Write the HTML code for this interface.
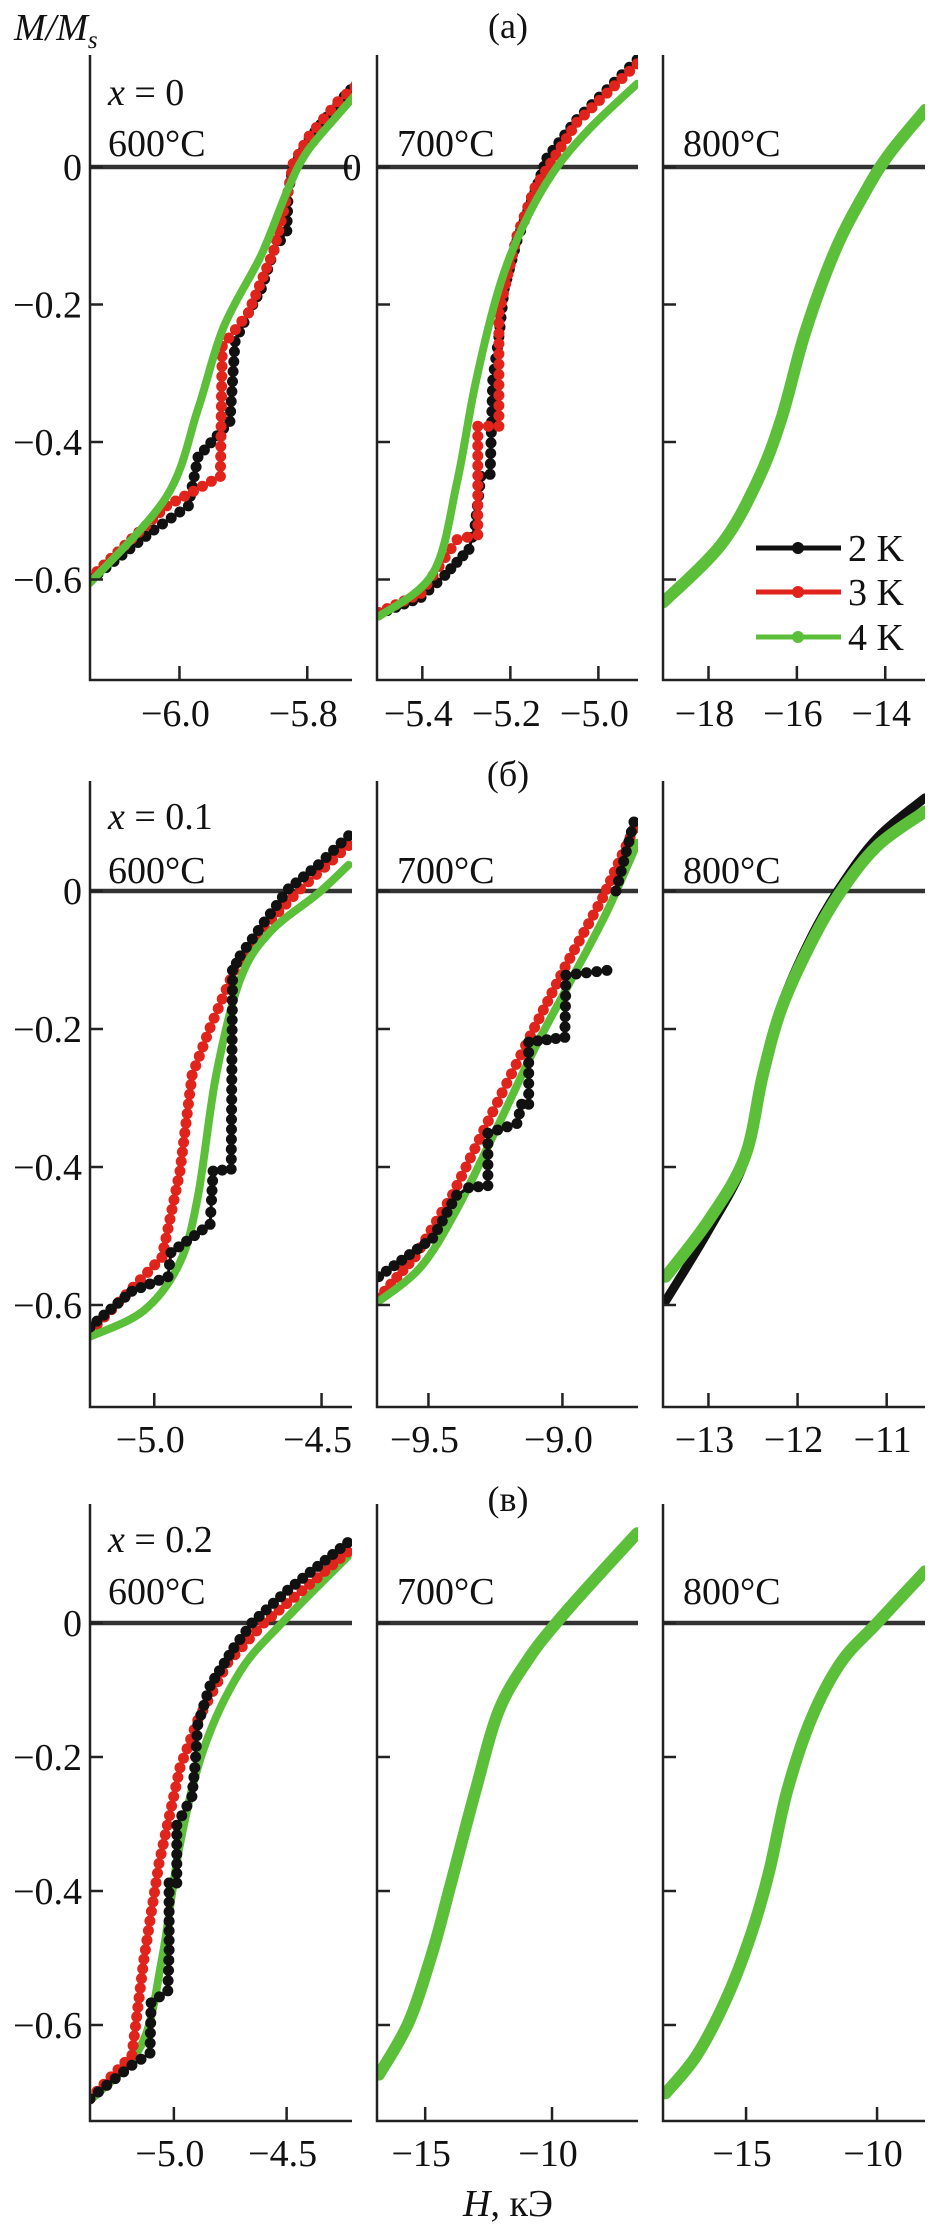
<!DOCTYPE html>
<html><head><meta charset="utf-8"><style>
html,body{margin:0;padding:0;background:#fff;}
svg{display:block;}
text{font-family:"Liberation Serif",serif;fill:#111;}
</style></head><body>
<svg id="fig" width="938" height="2228" viewBox="0 0 938 2228" xmlns="http://www.w3.org/2000/svg"></svg>
<script>
// ---- data (H in kOe, M/Ms) ----
const yTicks = [0, -0.2, -0.4, -0.6];
const yTickLabels = ["0", "\u22120.2", "\u22120.4", "\u22120.6"];
const seriesNames = ["2 K", "3 K", "4 K"];
const rowTitles = ["(a)", "(\u0431)", "(\u0432)"];
const compLabels = ["x = 0", "x = 0.1", "x = 0.2"];
const tempLabels = ["600\u00b0C", "700\u00b0C", "800\u00b0C"];

const xDomains = [
 [[-6.14,-5.73],[-5.503,-4.91],[-19.03,-13.1]],
 [[-5.192,-4.409],[-9.692,-8.718],[-13.51,-10.57]],
 [[-5.372,-4.21],[-16.9,-6.61],[-18.17,-8.17]]
];
const xTicks = [
 [[-6.0,-5.8],[-5.4,-5.2,-5.0],[-18,-16,-14]],
 [[-5.0,-4.5],[-9.5,-9.0],[-13,-12,-11]],
 [[-5.0,-4.5],[-15,-10],[-15,-10]]
];
const xTickLabels = [
 [["\u22126.0","\u22125.8"],["\u22125.4","\u22125.2","\u22125.0"],["\u221218","\u221216","\u221214"]],
 [["\u22125.0","\u22124.5"],["\u22129.5","\u22129.0"],["\u221213","\u221212","\u221211"]],
 [["\u22125.0","\u22124.5"],["\u221215","\u221210"],["\u221215","\u221210"]]
];

// panel a1
const a1H_2K=[-6.14,-6.04,-5.986,-5.971,-5.921,-5.913,-5.892,-5.872,-5.852,-5.832,-5.83,-5.822,-5.797,-5.752,-5.712];
const a1M_2K=[-0.601,-0.528,-0.493,-0.422,-0.37,-0.254,-0.212,-0.177,-0.121,-0.093,-0.036,0,0.041,0.093,0.132];
const a1H_3K=[-6.14,-6.02,-5.936,-5.933,-5.892,-5.852,-5.83,-5.822,-5.797,-5.752,-5.712];
const a1M_3K=[-0.598,-0.493,-0.45,-0.261,-0.212,-0.121,-0.036,0.005,0.045,0.095,0.128];
const a1H_4K=[-6.14,-6.02,-5.971,-5.931,-5.872,-5.832,-5.802,-5.752,-5.712];
const a1M_4K=[-0.605,-0.479,-0.352,-0.233,-0.128,-0.036,0.02,0.076,0.118];
// panel a2
const a2H_2K=[-5.499,-5.403,-5.349,-5.294,-5.28,-5.267,-5.246,-5.24,-5.226,-5.214,-5.185,-5.144,-5.117,-5.049,-4.912];
const a2M_2K=[-0.65,-0.626,-0.594,-0.556,-0.521,-0.45,-0.447,-0.31,-0.247,-0.177,-0.107,-0.036,0.013,0.069,0.156];
const a2H_3K=[-5.499,-5.403,-5.321,-5.274,-5.274,-5.226,-5.226,-5.185,-5.144,-5.049,-4.912];
const a2M_3K=[-0.648,-0.62,-0.542,-0.535,-0.377,-0.377,-0.212,-0.1,-0.03,0.065,0.15];
const a2H_4K=[-5.499,-5.376,-5.321,-5.28,-5.226,-5.171,-5.103,-5.021,-4.912];
const a2M_4K=[-0.654,-0.591,-0.458,-0.317,-0.177,-0.086,-0.008,0.055,0.121];
// panel a3
const a3H=[-19.02,-17.71,-16.9,-16.35,-15.81,-15.13,-14.45,-13.9,-13.09];
const a3M=[-0.633,-0.549,-0.458,-0.366,-0.24,-0.121,-0.036,0.02,0.083];
// panel b1
const b1H_2K=[-5.192,-5.067,-4.959,-4.95,-4.833,-4.829,-4.824,-4.77,-4.766,-4.743,-4.671,-4.599,-4.509,-4.419];
const b1M_2K=[-0.632,-0.58,-0.559,-0.524,-0.483,-0.448,-0.406,-0.403,-0.115,-0.094,-0.045,0.003,0.038,0.08];
const b1H_3K=[-5.192,-4.977,-4.923,-4.887,-4.833,-4.761,-4.671,-4.563,-4.419];
const b1M_3K=[-0.639,-0.531,-0.406,-0.267,-0.198,-0.115,-0.052,0.003,0.066];
const b1H_4K=[-5.192,-5.031,-4.923,-4.869,-4.815,-4.743,-4.653,-4.509,-4.419];
const b1M_4K=[-0.646,-0.608,-0.538,-0.441,-0.267,-0.128,-0.059,-0.003,0.038];
// panel b2
const b2H_2K=[-9.686,-9.484,-9.395,-9.35,-9.278,-9.278,-9.17,-9.152,-9.126,-9.126,-8.991,-8.987,-8.834,null,-8.8,-8.733];
const b2M_2K=[-0.559,-0.503,-0.441,-0.43,-0.427,-0.351,-0.337,-0.309,-0.309,-0.219,-0.212,-0.122,-0.115,null,0.0,0.1];
const b2H_3K=[-9.686,-9.55,-9.41,-9.26,-9.12,-8.99,-8.85,-8.733];
const b2M_3K=[-0.59,-0.53,-0.44,-0.32,-0.21,-0.11,-0.01,0.09];
const b2H_4K=[-9.686,-9.529,-9.395,-9.238,-9.103,-8.969,-8.834,-8.72];
const b2M_4K=[-0.595,-0.545,-0.462,-0.338,-0.228,-0.13,-0.03,0.07];
// panel b3
const b3H_2K=[-13.48,-12.99,-12.59,-12.39,-12.18,-11.84,-11.51,-11.1,-10.57];
const b3M_2K=[-0.594,-0.49,-0.39,-0.267,-0.165,-0.065,0.008,0.078,0.135];
const b3H_4K=[-13.48,-12.99,-12.59,-12.39,-12.18,-11.84,-11.51,-11.1,-10.57];
const b3M_4K=[-0.559,-0.476,-0.385,-0.267,-0.17,-0.073,0,0.066,0.115];
// panel c1
const c1H_2K=[-5.372,-5.186,-5.106,-5.101,-5.027,-5.021,-5.021,-4.987,-4.987,-4.92,-4.907,-4.894,-4.84,-4.734,-4.654,-4.495,-4.229];
const c1M_2K=[-0.71,-0.66,-0.642,-0.567,-0.549,-0.488,-0.388,-0.388,-0.302,-0.259,-0.216,-0.152,-0.094,-0.037,0,0.049,0.12];
const c1H_3K=[-5.372,-5.186,-5.133,-5.066,-4.973,-4.894,-4.761,-4.601,-4.229];
const c1M_3K=[-0.71,-0.645,-0.502,-0.359,-0.216,-0.145,-0.059,0,0.106];
const c1H_4K=[-5.372,-5.146,-5.053,-4.973,-4.867,-4.707,-4.521,-4.229];
const c1M_4K=[-0.713,-0.631,-0.502,-0.33,-0.187,-0.073,0,0.099];
// panel c2
const c2H=[-16.82,-15.64,-14.69,-13.98,-13.03,-12.09,-10.9,-9.83,-8.53,-6.64];
const c2M=[-0.674,-0.595,-0.488,-0.388,-0.252,-0.13,-0.052,0,0.056,0.134];
// panel c3
const c3H=[-18.07,-16.88,-15.73,-14.82,-14.13,-13.44,-12.52,-11.38,-10,-8.17];
const c3M=[-0.702,-0.645,-0.559,-0.466,-0.373,-0.252,-0.144,-0.059,0,0.077];

// ---- layout ----
const NS="http://www.w3.org/2000/svg";
const svg=document.getElementById('fig');
const colX=[[90,352],[377,638],[663,925]];
const rows=[{top:55,bot:680,y0:167,k:687.5,tickY:726,compY:105,tempY:156,titleY:38},
            {top:781,bot:1407,y0:891,k:690,tickY:1452,compY:829,tempY:883,titleY:786},
            {top:1504,bot:2121,y0:1623,k:670,tickY:2166,compY:1552,tempY:1604,titleY:1511}];
const COL={"2 K":"#111","3 K":"#e0231b","4 K":"#5cbf3a"};
function el(tag,attrs,parent){const e=document.createElementNS(NS,tag);for(const k in attrs)e.setAttribute(k,attrs[k]);(parent||svg).appendChild(e);return e;}
function txt(s,x,y,anchor,size,parent){const t=el('text',{x:x,y:y,'text-anchor':anchor||'start','font-size':size||36},parent);t.textContent=s;return t;}
function smoothPath(pts){
  let d='M'+pts[0][0].toFixed(1)+','+pts[0][1].toFixed(1);
  for(let i=0;i<pts.length-1;i++){
    const p0=pts[Math.max(0,i-1)],p1=pts[i],p2=pts[i+1],p3=pts[Math.min(pts.length-1,i+2)];
    const c1=[p1[0]+(p2[0]-p0[0])/6,p1[1]+(p2[1]-p0[1])/6];
    const c2=[p2[0]-(p3[0]-p1[0])/6,p2[1]-(p3[1]-p1[1])/6];
    d+='C'+c1[0].toFixed(1)+','+c1[1].toFixed(1)+' '+c2[0].toFixed(1)+','+c2[1].toFixed(1)+' '+p2[0].toFixed(1)+','+p2[1].toFixed(1);
  }
  return d;
}

const panelData=[
 [[[a1H_2K,a1M_2K,"2 K"],[a1H_3K,a1M_3K,"3 K"],[a1H_4K,a1M_4K,"4 K"]],
  [[a2H_2K,a2M_2K,"2 K"],[a2H_3K,a2M_3K,"3 K"],[a2H_4K,a2M_4K,"4 K"]],
  [[a3H,a3M,"2 K"],[a3H,a3M,"4 K"]]],
 [[[b1H_3K,b1M_3K,"3 K"],[b1H_4K,b1M_4K,"4 K"],[b1H_2K,b1M_2K,"2 K"]],
  [[b2H_3K,b2M_3K,"3 K"],[b2H_4K,b2M_4K,"4 K"],[b2H_2K,b2M_2K,"2 K"]],
  [[b3H_2K,b3M_2K,"2 K"],[b3H_4K,b3M_4K,"4 K"]]],
 [[[c1H_4K,c1M_4K,"4 K"],[c1H_3K,c1M_3K,"3 K"],[c1H_2K,c1M_2K,"2 K"]],
  [[c2H,c2M,"2 K"],[c2H,c2M,"4 K"]],
  [[c3H,c3M,"2 K"],[c3H,c3M,"4 K"]]]
];
const panelNames=["a","b","c"];

for(let r=0;r<3;r++){
  const R=rows[r];
  const title=txt(rowTitles[r],508,R.titleY,'middle',36);
  
  
  for(let c=0;c<3;c++){
    const [x0,x1]=colX[c];const [d0,d1]=xDomains[r][c];
    const sx=v=>x0+(v-d0)/(d1-d0)*(x1-x0);
    const sy=v=>R.y0-v*R.k;
    const g=el('g',{});
    
    
    const clipId='clip'+r+c;
    const cp=el('clipPath',{id:clipId},g);el('rect',{x:x0,y:R.top,width:x1-x0,height:R.bot-R.top},cp);
    const zl=el('line',{x1:x0,x2:x1,y1:sy(0),y2:sy(0),stroke:'#333','stroke-width':4.5},g);
    
    
    const sg=el('g',{'clip-path':'url(#'+clipId+')'},g);
    for(const [H,M,name] of panelData[r][c]){
      const isGreen=name==="4 K";
      const single=panelData[r][c].length===2;
      // segments
      const segs=[];let cur=[];
      for(let i=0;i<H.length;i++){
        if(H[i]===null){if(cur.length)segs.push(cur);cur=[];continue;}
        cur.push([sx(H[i]),sy(M[i])]);
      }
      if(cur.length)segs.push(cur);
      const w=isGreen?(single?12:8):(single?9:3);
      for(const s of segs){
        let d;
        if(isGreen||single) d=smoothPath(s);
        else d='M'+s.map(p=>p[0].toFixed(1)+','+p[1].toFixed(1)).join('L');
        const p=el('path',{d:d,fill:'none',stroke:COL[name],'stroke-width':w,'stroke-linejoin':'round','stroke-linecap':'round'},sg);
        
        
        if(!isGreen && !single){
          // dense markers along the polyline
          for(let i=0;i<s.length-1;i++){
            const dx=s[i+1][0]-s[i][0],dy=s[i+1][1]-s[i][1];
            const L=Math.hypot(dx,dy);const n=Math.max(1,Math.round(L/10));
            for(let j=0;j<n;j++){
              const m=el('circle',{cx:(s[i][0]+dx*j/n).toFixed(1),cy:(s[i][1]+dy*j/n).toFixed(1),r:5.5,fill:COL[name]},sg);
              
              
            }
          }
          const last=s[s.length-1];
          const m=el('circle',{cx:last[0],cy:last[1],r:5.5,fill:COL[name]},sg);
          
          
        }
      }
    }
    const ax=el('path',{d:'M'+x0+','+R.top+'L'+x0+','+R.bot+'L'+x1+','+R.bot,fill:'none',stroke:'#222','stroke-width':2.5},g);
    
    
    for(let i=0;i<yTicks.length;i++){
      el('line',{x1:x0,x2:x0+13,y1:sy(yTicks[i]),y2:sy(yTicks[i]),stroke:'#222','stroke-width':2.5},g);
      if(c===0){const t=txt(yTickLabels[i],82,sy(yTicks[i])+13,'end',38,g);
        
        }
    }
    if(r===0&&c===1){const t=txt("0",352,sy(0)+13,'middle',38,g);
      
      }
    for(let i=0;i<xTicks[r][c].length;i++){
      const X=sx(xTicks[r][c][i]);
      el('line',{x1:X,x2:X,y1:R.bot,y2:R.bot-14,stroke:'#222','stroke-width':2.5},g);
      const t=txt(xTickLabels[r][c][i],X-4,R.tickY,'middle',38,g);
      
      
    }
    if(c===0){const t=el('text',{x:108,y:R.compY,'font-size':38},g);
      t.innerHTML='<tspan font-style="italic">x</tspan> = '+compLabels[r].slice(4);
      
      }
    const tl=txt(tempLabels[c],[108,397,683][c],R.tempY,'start',38,g);
    
    
  }
}
// legend
const lg=el('g',{});


const legY=[548,592,637];
for(let i=0;i<3;i++){
  const e=el('g',{},lg);
  
  
  el('line',{x1:756,x2:841,y1:legY[i],y2:legY[i],stroke:COL[seriesNames[i]],'stroke-width':5},e);
  el('circle',{cx:798,cy:legY[i],r:6,fill:COL[seriesNames[i]]},e);
  txt(seriesNames[i],848,legY[i]+13,'start',38,e);
}
const yt=el('text',{x:14,y:40,'font-size':38,'font-style':'italic'});
yt.innerHTML='M/M<tspan font-size="25" dy="8">s</tspan>';


const xt=el('text',{x:508,y:2216,'font-size':38,'text-anchor':'middle'});
xt.innerHTML='<tspan font-style="italic">H</tspan>, \u043a\u042d';


</script>
</body></html>
